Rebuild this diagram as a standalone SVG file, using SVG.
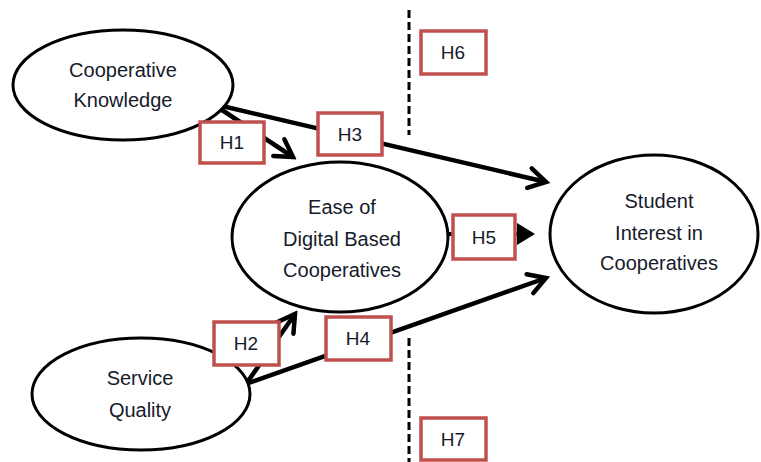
<svg xmlns="http://www.w3.org/2000/svg" width="761" height="462" viewBox="0 0 761 462">
<style>
.node ellipse{fill:#fff;stroke:#000;stroke-width:3}
.t{font-family:"Liberation Sans",Arial,sans-serif;font-size:20px;fill:#151b2b;text-anchor:middle}
.box rect{fill:#fff;stroke:#c0504d;stroke-width:3.5}
.box text{font-family:"Liberation Sans",Arial,sans-serif;font-size:19px;fill:#151b2b;text-anchor:middle}
.arr{stroke:#000;stroke-width:4.5;fill:none;marker-end:url(#chev)}
.dash{stroke:#000;stroke-width:3;stroke-dasharray:8 4}
</style>
<defs>
<marker id="chev" markerUnits="userSpaceOnUse" viewBox="-22 -14 26 28" refX="0" refY="0" markerWidth="26" markerHeight="28" orient="auto">
<path d="M-17,-10 L0,0 L-17,10" fill="none" stroke="#000" stroke-width="4.5" stroke-linecap="round" stroke-linejoin="miter"/>
</marker>
<marker id="tri" markerUnits="userSpaceOnUse" viewBox="-20 -13 22 26" refX="-16" refY="0" markerWidth="22" markerHeight="26" orient="auto">
<path d="M-18,-11 L0,0 L-18,11 Z" fill="#000"/>
</marker>
</defs>
<g id="connectors">
<line class="dash" x1="409" y1="10" x2="409" y2="135"/>
<line class="dash" x1="409" y1="338" x2="409" y2="462"/>
<line class="arr" x1="222" y1="106" x2="546" y2="182"/>
<line class="arr" x1="222" y1="110" x2="293" y2="157"/>
<line class="arr" x1="246" y1="384" x2="295" y2="314"/>
<line class="arr" x1="246" y1="384" x2="546" y2="278"/>
<line x1="448" y1="234" x2="519" y2="234" stroke="#000" stroke-width="4" marker-end="url(#tri)"/>
</g>
<g id="cooperative-knowledge" class="node">
<ellipse cx="123" cy="85" rx="110" ry="55"/>
<text class="t" x="123" y="77">Cooperative</text>
<text class="t" x="123" y="107">Knowledge</text>
</g>
<g id="ease-digital" class="node">
<ellipse cx="340" cy="237" rx="108" ry="75"/>
<text class="t" x="342" y="214">Ease of</text>
<text class="t" x="342" y="246">Digital Based</text>
<text class="t" x="342" y="277">Cooperatives</text>
</g>
<g id="student-interest" class="node">
<ellipse cx="654" cy="234" rx="104" ry="79"/>
<text class="t" x="659" y="208">Student</text>
<text class="t" x="659" y="240">Interest in</text>
<text class="t" x="659" y="270">Cooperatives</text>
</g>
<g id="service-quality" class="node">
<ellipse cx="141" cy="394" rx="109" ry="56"/>
<text class="t" x="140" y="385">Service</text>
<text class="t" x="140" y="417">Quality</text>
</g>
<g id="h1" class="box"><rect x="200" y="122" width="64" height="41"/><text x="232" y="149">H1</text></g>
<g id="h3" class="box"><rect x="318" y="113" width="64" height="42"/><text x="350" y="141">H3</text></g>
<g id="h6" class="box"><rect x="421" y="31" width="65" height="43"/><text x="453" y="59">H6</text></g>
<g id="h5" class="box"><rect x="453" y="215" width="62" height="44"/><text x="484" y="244">H5</text></g>
<g id="h2" class="box"><rect x="214" y="322" width="65" height="43"/><text x="246" y="350">H2</text></g>
<g id="h4" class="box"><rect x="326" y="317" width="65" height="43"/><text x="358" y="345">H4</text></g>
<g id="h7" class="box"><rect x="421" y="418" width="65" height="42"/><text x="453" y="446">H7</text></g>
</svg>
